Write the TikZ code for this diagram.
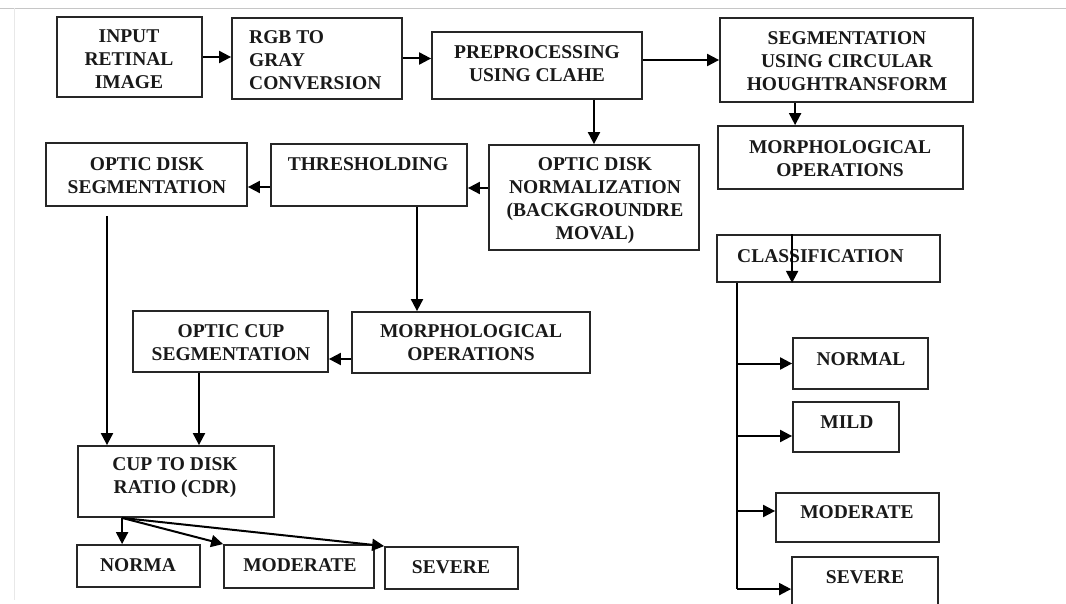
\documentclass[tikz,border=0pt]{standalone}
\usepackage{fontspec}
\setmainfont{Liberation Serif}
\usetikzlibrary{arrows.meta,calc}
\tikzset{
  box/.style={draw=black!85, line width=1.8pt, inner sep=0pt, rectangle},
  txt/.style={font=\fontsize{19.5}{23}\selectfont\bfseries, align=center, inner sep=0pt, text=black!90},
  arr/.style={draw=black, line width=2pt, -{Triangle[length=12pt,width=12pt]}},
  ln/.style={draw=black, line width=2pt}
}
\begin{document}
\begin{tikzpicture}[x=1pt,y=-1pt]
\useasboundingbox (0,0) rectangle (1066,604);
\clip (0,0) rectangle (1066,604);
% faint frame
\draw[gray!45, line width=0.8pt] (0,8) -- (1066,8);
\draw[gray!18, line width=0.8pt] (14,8) -- (14,600);

% boxes
\node[box, minimum width=145pt, minimum height=80pt] (inp) at (129.5,57) {};
\node[box, minimum width=170pt, minimum height=81pt] (rgb) at (317,58.5) {};
\node[box, minimum width=210pt, minimum height=67pt] (pre) at (537,65.5) {};
\node[box, minimum width=253pt, minimum height=84pt] (seg) at (846.5,60) {};
\node[box, minimum width=245pt, minimum height=63pt] (morR) at (840.5,157.5) {};
\node[box, minimum width=210pt, minimum height=105pt] (norm) at (594,197.5) {};
\node[box, minimum width=196pt, minimum height=62pt] (thr) at (369,175) {};
\node[box, minimum width=201pt, minimum height=63pt] (ods) at (146.5,174.5) {};
\node[box, minimum width=223pt, minimum height=47pt] (cls) at (828.5,258.5) {};
\node[box, minimum width=238pt, minimum height=61pt] (morM) at (471,342.5) {};
\node[box, minimum width=195pt, minimum height=61pt] (cup) at (230.5,341.5) {};
\node[box, minimum width=196pt, minimum height=71pt] (cdr) at (176,481.5) {};
\node[box, minimum width=123pt, minimum height=42pt] (norma) at (138.5,566) {};
\node[box, minimum width=150pt, minimum height=43pt] (modB) at (299,566.5) {};
\node[box, minimum width=133pt, minimum height=42pt] (sevB) at (451.5,568) {};
\node[box, minimum width=135pt, minimum height=51pt] (normal) at (860.5,363.5) {};
\node[box, minimum width=106pt, minimum height=50pt] (mild) at (846,427) {};
\node[box, minimum width=163pt, minimum height=49pt] (modR) at (857.5,517.5) {};
\node[box, minimum width=146pt, minimum height=63pt] (sevR) at (865,588.5) {};

% texts
\node[txt] (t-inp) at (129,59) {INPUT\\RETINAL\\IMAGE};
\node[txt, anchor=west, align=left] (t-rgb) at (249,60.5) {RGB TO\\GRAY\\CONVERSION};
\node[txt] (t-pre) at (537,64) {PREPROCESSING\\USING CLAHE};
\node[txt] (t-seg) at (847,61) {SEGMENTATION\\USING CIRCULAR\\HOUGHTRANSFORM};
\node[txt] (t-morR) at (840,158.5) {MORPHOLOGICAL\\OPERATIONS};
\node[txt] (t-norm) at (595,201) {OPTIC DISK\\NORMALIZATION\\(BACKGROUNDRE\\MOVAL)};
\node[txt] (t-thr) at (368,164) {THRESHOLDING};
\node[txt] (t-ods) at (147,175.5) {OPTIC DISK\\SEGMENTATION};
\node[txt, anchor=west] (t-cls) at (737,256) {CLASSIFICATION};
\node[txt] (t-morM) at (471,342.5) {MORPHOLOGICAL\\OPERATIONS};
\node[txt] (t-cup) at (231,342.5) {OPTIC CUP\\SEGMENTATION};
\node[txt] (t-cdr) at (175,478) {CUP TO DISK\\RATIO (CDR)};
\node[txt] (t-norma) at (138,565) {NORMA};
\node[txt] (t-modB) at (300,565) {MODERATE};
\node[txt] (t-sevB) at (451,567) {SEVERE};
\node[txt] (t-normal) at (861,359) {NORMAL};
\node[txt] (t-mild) at (847,422) {MILD};
\node[txt] (t-modR) at (857,512) {MODERATE};
\node[txt] (t-sevR) at (865,577) {SEVERE};

% connectors
\draw[arr] (inp.east) -- (inp.east -| rgb.west);
\draw[arr] (rgb.east) -- (rgb.east -| pre.west);
\draw[arr] (pre.east |- seg.west) -- (seg.west);
\draw[arr] (norm.north |- pre.south) -- (norm.north);
\coordinate (s1) at ($(seg.south west)+(76,0)$);
\draw[arr] (s1) -- (s1 |- morR.north);
\coordinate (n1) at ($(norm.west)+(0,-9.5)$);
\draw[arr] (n1) -- (n1 -| thr.east);
\coordinate (th1) at ($(thr.west)+(0,12)$);
\draw[arr] (th1) -- (th1 -| ods.east);
\coordinate (th2) at ($(thr.south)+(48,0)$);
\draw[arr] (th2) -- (th2 |- morM.north);
\coordinate (m1) at ($(morM.west)+(0,16.5)$);
\draw[arr] (m1) -- (m1 -| cup.east);
\coordinate (o1) at ($(ods.south)+(-39.5,9)$);
\draw[arr] (o1) -- (o1 |- cdr.north);
\coordinate (c1) at ($(cup.south)+(-31.5,0)$);
\draw[arr] (c1) -- (c1 |- cdr.north);
\coordinate (cf) at ($(cdr.south west)+(45,0)$);
\draw[arr] (cf) -- (cf |- norma.north);
\draw[arr] (cf) -- (modB.north west);
\draw[arr] (cf) -- (sevB.north west);
\coordinate (k1) at ($(cls.north west)+(76,0)$);
\draw[arr] (k1) -- (k1 |- cls.south);
\coordinate (tr) at ($(cls.south west)+(21,0)$);
\coordinate (trEnd) at ($(sevR.north west)+(-54,33)$);
\draw[ln] (tr) -- (trEnd);
\draw[arr] (normal.west -| tr) -- (normal.west);
\coordinate (b2) at ($(mild.west)+(0,9)$);
\draw[arr] (b2 -| tr) -- (b2);
\coordinate (b3) at ($(modR.west)+(0,-6.5)$);
\draw[arr] (b3 -| tr) -- (b3);
\coordinate (b4) at ($(sevR.north west)+(0,33)$);
\draw[arr] (trEnd) -- (b4);
\end{tikzpicture}
\end{document}
